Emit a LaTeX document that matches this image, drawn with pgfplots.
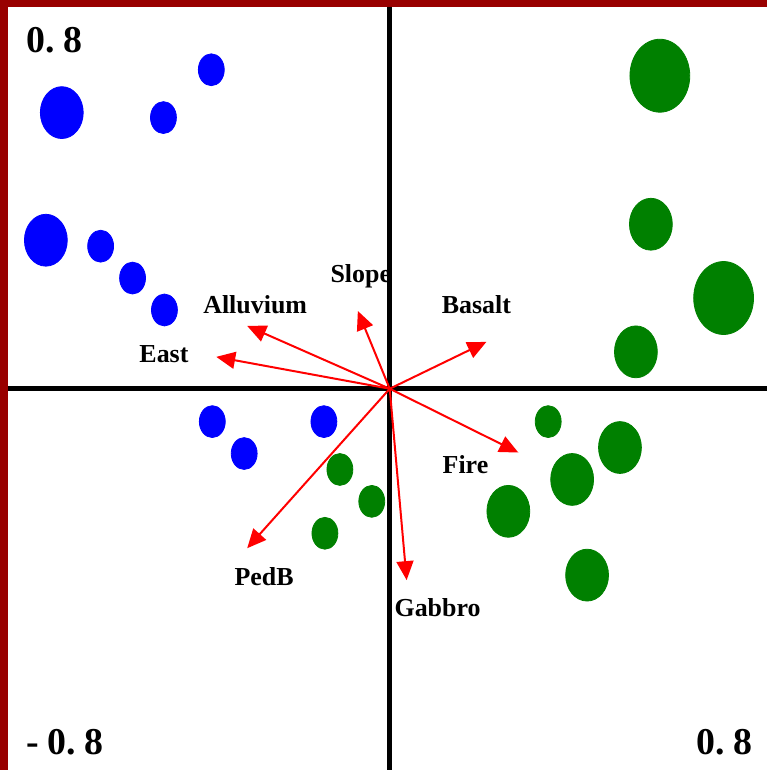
\documentclass[border=0pt]{standalone}
\usepackage{fontspec}
\setmainfont{Liberation Serif}
\usepackage{pgfplots}
\pgfplotsset{compat=1.18}
\usetikzlibrary{arrows.meta}
\definecolor{borderred}{RGB}{153,0,0}
\definecolor{ptgreen}{RGB}{0,128,0}
\tikzset{
  lbl/.style={anchor=base, font=\bfseries\fontsize{13}{15}\selectfont},
  corner/.style={anchor=base, font=\bfseries\fontsize{19}{21}\selectfont},
  arr/.style={red, line width=1pt, -{Triangle[length=9.5pt,width=8.5pt]}},
}
\begin{document}
\begin{tikzpicture}
\begin{axis}[
  scale only axis, width=384.5pt, height=386pt,
  xmin=-0.8167, xmax=0.7896, ymin=-0.7979, ymax=0.8146,
  hide axis, clip=false,
]
% border
\fill[borderred] (axis cs:-0.8167,-0.7979) rectangle (axis cs:-0.8,0.8146);
\fill[borderred] (axis cs:-0.8167,0.8) rectangle (axis cs:0.7896,0.8146);

% blue sites
\addplot[only marks, mark=*, mark size=10.75pt, blue, mark options={yscale=1.21, draw=none, fill=blue}] coordinates {
  (-0.6872,0.5786) (-0.7206,0.3112)};
\addplot[only marks, mark=*, mark size=6.5pt, blue, mark options={yscale=1.23, draw=none, fill=blue}] coordinates {
  (-0.4742,0.5682) (-0.3739,0.6684) (-0.6058,0.2987) (-0.5389,0.2319)
  (-0.4721,0.1650) (-0.3718,-0.0689) (-0.3050,-0.1358) (-0.1379,-0.0689)};
% green sites
\addplot[only marks, mark=*, mark size=15pt, ptgreen, mark options={yscale=1.22, draw=none, fill=ptgreen}] coordinates {
  (0.5661,0.6559) (0.6997,0.1901)};
\addplot[only marks, mark=*, mark size=10.75pt, ptgreen, mark options={yscale=1.21, draw=none, fill=ptgreen}] coordinates {
  (0.5473,0.3447) (0.5159,0.0773) (0.4825,-0.1232) (0.3823,-0.1901)
  (0.2486,-0.2569) (0.4136,-0.3906)};
\addplot[only marks, mark=*, mark size=6.5pt, ptgreen, mark options={yscale=1.23, draw=none, fill=ptgreen}] coordinates {
  (0.3321,-0.0689) (-0.1044,-0.1692) (-0.0376,-0.2360) (-0.1358,-0.3029)};

% labels
\node[lbl] at (axis cs:-0.0606,0.2216) {Slope};
\node[lbl] at (axis cs:0.1817,0.1568) {Basalt};
\node[lbl] at (axis cs:-0.2820,0.1568) {Alluvium};
\node[lbl] at (axis cs:-0.4731,0.0545) {East};
\node[lbl] at (axis cs:0.1587,-0.1774) {Fire};
\node[lbl] at (axis cs:-0.2632,-0.4113) {PedB};
\node[lbl] at (axis cs:0.1003,-0.4782) {Gabbro};
\node[corner] at (axis cs:-0.7029,0.7039) {0.\hspace{0.22em}8};
\node[corner] at (axis cs:-0.6799,-0.7666) {-\hspace{0.22em}0.\hspace{0.22em}8};
\node[corner] at (axis cs:0.7018,-0.7666) {0.\hspace{0.22em}8};

% axes lines
\addplot[black, line width=2.5pt] coordinates {(-0.8,0) (0.7896,0)};
\addplot[black, line width=2.5pt] coordinates {(0,0.8) (0,-0.7979)};

% arrows
\addplot[arr] coordinates {(0,0) (-0.0668,0.1629)};
\addplot[arr] coordinates {(0,0) (0.2026,0.0982)};
\addplot[arr] coordinates {(0,0) (-0.2987,0.1316)};
\addplot[arr] coordinates {(0,0) (-0.3635,0.0668)};
\addplot[arr] coordinates {(0,0) (0.2695,-0.1337)};
\addplot[arr] coordinates {(0,0) (-0.2987,-0.3342)};
\addplot[arr] coordinates {(0,0) (0.0355,-0.4010)};
\end{axis}
\end{tikzpicture}
\end{document}
